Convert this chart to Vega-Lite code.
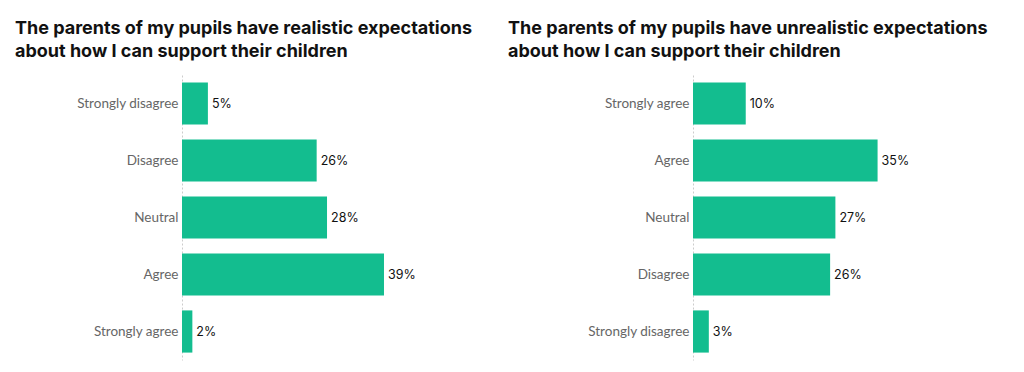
{
  "$schema": "https://vega.github.io/schema/vega-lite/v6.json",
  "padding": {"left": 15, "top": 20, "right": 5, "bottom": 5},
  "background": "white",
  "bounds": "flush",
  "config": {
    "view": {"stroke": null},
    "font": "Inter",
    "title": {"font": "Inter", "fontSize": 18, "fontWeight": "bold", "color": "#111111", "anchor": "start", "frame": "group", "lineHeight": 23, "offset": 14},
    "axis": {"labelFont": "Lato", "labelFontSize": 13.5, "labelColor": "#666666", "ticks": false, "grid": false, "title": null, "labelPadding": 4, "domainColor": "#cccccc", "domainDash": [2, 2], "domainWidth": 1},
    "concat": {"spacing": 251}
  },
  "hconcat": [
    {
      "title": {"text": ["The parents of my pupils have realistic expectations", "about how I can support their children"], "dx": -167},
      "width": 260,
      "height": 285,
      "data": {"values": [
        {"response": "Strongly disagree", "order": 1, "pct": 5, "label": "5%"},
        {"response": "Disagree", "order": 2, "pct": 26, "label": "26%"},
        {"response": "Neutral", "order": 3, "pct": 28, "label": "28%"},
        {"response": "Agree", "order": 4, "pct": 39, "label": "39%"},
        {"response": "Strongly agree", "order": 5, "pct": 2, "label": "2%"}
      ]},
      "encoding": {
        "y": {"field": "response", "type": "nominal", "sort": {"field": "order"}, "scale": {"paddingInner": 0.26, "paddingOuter": 0.13}},
        "x": {"field": "pct", "type": "quantitative", "scale": {"domain": [0, 50.2]}, "axis": null}
      },
      "layer": [
        {"mark": {"type": "bar", "color": "#13BD8F"}},
        {"mark": {"type": "text", "align": "left", "dx": 4, "fontSize": 12.5, "color": "#111111"}, "encoding": {"text": {"field": "label"}}}
      ]
    },
    {
      "title": {"text": ["The parents of my pupils have unrealistic expectations", "about how I can support their children"], "dx": -185},
      "width": 260,
      "height": 285,
      "data": {"values": [
        {"response": "Strongly agree", "order": 1, "pct": 10, "label": "10%"},
        {"response": "Agree", "order": 2, "pct": 35, "label": "35%"},
        {"response": "Neutral", "order": 3, "pct": 27, "label": "27%"},
        {"response": "Disagree", "order": 4, "pct": 26, "label": "26%"},
        {"response": "Strongly disagree", "order": 5, "pct": 3, "label": "3%"}
      ]},
      "encoding": {
        "y": {"field": "response", "type": "nominal", "sort": {"field": "order"}, "scale": {"paddingInner": 0.26, "paddingOuter": 0.13}},
        "x": {"field": "pct", "type": "quantitative", "scale": {"domain": [0, 49.3]}, "axis": null}
      },
      "layer": [
        {"mark": {"type": "bar", "color": "#13BD8F"}},
        {"mark": {"type": "text", "align": "left", "dx": 4, "fontSize": 12.5, "color": "#111111"}, "encoding": {"text": {"field": "label"}}}
      ]
    }
  ],
  "resolve": {"scale": {"y": "independent", "x": "independent"}}
}
